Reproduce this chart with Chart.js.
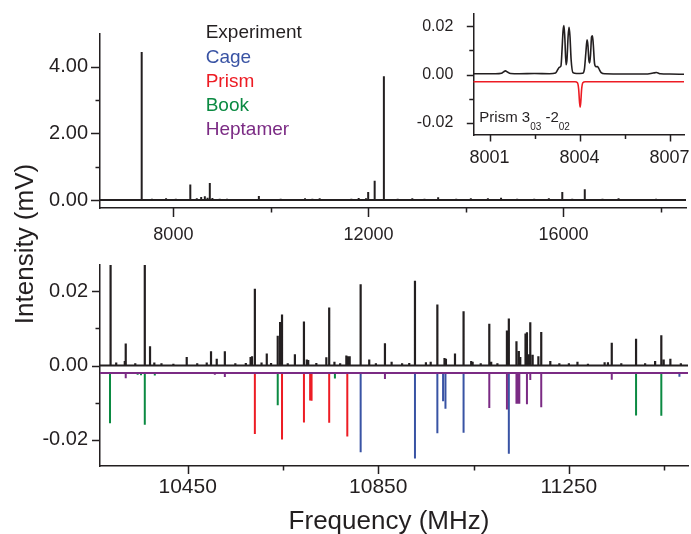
<!DOCTYPE html>
<html>
<head>
<meta charset="utf-8">
<script src="https://cdn.jsdelivr.net/npm/chart.js@4.4.1/dist/chart.umd.min.js"></script>
<style>
  body { margin: 0; background: #fff; }
  #wrap { position: relative; width: 691px; height: 534px; }
  #wrap canvas { position: absolute; left: 0; top: 0; }
</style>
</head>
<body>
<div id="wrap">
  <canvas id="overview" width="691" height="534"></canvas>
  <canvas id="expanded" width="691" height="534"></canvas>
  <canvas id="inset" width="691" height="534"></canvas>
</div>
<script>
const AXIS = '#231f20';
const FONT = "'Liberation Sans', Arial, Helvetica, sans-serif";
const colors = { exp: '#231f20', cage: '#3953a4', prism: '#ed1c24', book: '#0b8a42', hept: '#7b2b84' };

// overview spectrum (MHz, mV)
const overviewFreq = [7350, 7430, 7560, 7700, 7850, 8050, 8347, 8480, 8570, 8645, 8700, 8747, 8800, 8950, 9100, 9300,
  9753, 9900, 10200, 10450, 10700, 10850, 11000, 11300, 11650, 11800, 11950, 11995, 12128, 12317, 12600, 12900,
  13150, 13430, 13800, 14100, 14450, 14720, 15050, 15400, 15700, 15976, 16180, 16437, 16800, 17130, 17500, 17900, 18300];
const overviewInt = [4.45, 0.03, 0.04, 0.03, 0.05, 0.04, 0.47, 0.05, 0.09, 0.11, 0.07, 0.51, 0.06, 0.04, 0.04, 0.03,
  0.12, 0.03, 0.04, 0.03, 0.05, 0.04, 0.05, 0.03, 0.04, 0.06, 0.05, 0.24, 0.58, 3.72, 0.04, 0.05,
  0.04, 0.08, 0.04, 0.05, 0.05, 0.07, 0.04, 0.04, 0.05, 0.24, 0.04, 0.32, 0.04, 0.05, 0.03, 0.04, 0.03];

// expanded region, experiment
const expFreq = [10287, 10289, 10300, 10318, 10320, 10340, 10360, 10371, 10380, 10395, 10420, 10448, 10470, 10490, 10499,
  10511, 10528, 10550, 10572, 10582, 10585, 10591, 10605, 10616, 10625, 10639, 10644, 10648, 10660, 10675, 10694, 10700,
  10703, 10720, 10741, 10747, 10758, 10770, 10783, 10787, 10790, 10813, 10831, 10845, 10864, 10878, 10900, 10915, 10927,
  10950, 10960, 10974, 10989, 10992, 11011, 11029, 11045, 11048, 11065, 11083, 11087, 11100, 11120, 11124, 11140, 11145,
  11148, 11159, 11162, 11165, 11169, 11174, 11186, 11192, 11211, 11230, 11250, 11268, 11290, 11325, 11332, 11340, 11360,
  11391, 11410, 11431, 11444, 11449, 11463, 11485];
const expInt = [0.0275, 0.0034, 0.0008, 0.0012, 0.0059, 0.0006, 0.0275, 0.0052, 0.0008, 0.0006, 0.0005, 0.0023, 0.0006, 0.0008, 0.0038,
  0.0018, 0.0038, 0.0006, 0.0007, 0.0023, 0.0025, 0.0206, 0.0008, 0.0032, 0.0007, 0.008, 0.0117, 0.0137, 0.0006, 0.003, 0.0118, 0.0016,
  0.0015, 0.0007, 0.0022, 0.0156, 0.001, 0.0006, 0.0027, 0.0025, 0.0025, 0.0218, 0.0016, 0.0006, 0.006, 0.001, 0.0006, 0.0007, 0.0228,
  0.0009, 0.001, 0.0164, 0.002, 0.0018, 0.0032, 0.0146, 0.0012, 0.001, 0.0006, 0.0112, 0.001, 0.0006, 0.0094, 0.0126, 0.0065, 0.0039,
  0.0023, 0.0086, 0.0089, 0.003, 0.0116, 0.0029, 0.0025, 0.009, 0.0012, 0.0006, 0.0006, 0.001, 0.0005, 0.0009, 0.0009, 0.0061, 0.0006,
  0.0072, 0.0006, 0.0012, 0.0081, 0.0016, 0.0018, 0.0006];

// simulated spectra, drawn downwards from an offset baseline
const simBase = -0.002;
const cageFreq = [10813, 10927, 10974, 10986, 10991, 11029, 11124, 11482];
const cageInt = [-0.0233, -0.025, -0.0182, -0.0096, -0.0116, -0.0181, -0.0237, -0.003];
const prismFreq = [10591, 10648, 10694, 10707, 10710, 10747, 10785];
const prismInt = [-0.0184, -0.0199, -0.0153, -0.0094, -0.0095, -0.0154, -0.0191];
const bookFreq = [10287, 10345, 10352, 10360, 10381, 10639, 10759, 11391, 11444];
const bookInt = [-0.0155, -0.0025, -0.0026, -0.0159, -0.0027, -0.0107, -0.0035, -0.0134, -0.0135];
const heptFreq = [10320, 10507, 10528, 10864, 11083, 11120, 11140, 11143, 11146, 11162, 11169, 11192, 11340];
const heptInt = [-0.0034, -0.0025, -0.0031, -0.0036, -0.0114, -0.0118, -0.0103, -0.0103, -0.0103, -0.0104, -0.0039, -0.0112, -0.0038];

// inset: Prism 3(03)-2(02) line
const insetFreq = [8000.46, 8001.2, 8001.4, 8001.47, 8001.53, 8001.6, 8001.7, 8002.0, 8002.5, 8003.0, 8003.2, 8003.28, 8003.33,
  8003.38, 8003.42, 8003.45, 8003.48, 8003.51, 8003.55, 8003.58, 8003.62, 8003.65, 8003.68, 8003.72, 8003.78, 8003.9,
  8004.1, 8004.16, 8004.21, 8004.25, 8004.28, 8004.31, 8004.34, 8004.37, 8004.40, 8004.43, 8004.46, 8004.5, 8004.55,
  8004.6, 8004.64, 8004.72, 8004.85, 8005.5, 8006.2, 8006.45, 8006.56, 8006.7, 8007.0, 8007.48];
const insetInt = [0.0003, 0.0003, 0.0005, 0.0011, 0.0015, 0.001, 0.0004, 0.0003, 0.0004, 0.0003, 0.0006, 0.0022, 0.003,
  0.0035, 0.011, 0.018, 0.0202, 0.015, 0.004, 0.006, 0.016, 0.0195, 0.016, 0.006, 0.0008, 0.0004,
  0.0005, 0.002, 0.009, 0.0143, 0.012, 0.006, 0.0048, 0.009, 0.0155, 0.016, 0.012, 0.0045, 0.0032,
  0.0033, 0.0025, 0.0008, 0.0003, 0.0002, 0.0002, 0.0006, 0.0008, 0.0003, 0.0002, 0.0001];
const prismFitFreq = [8000.46, 8003.85, 8003.93, 8003.97, 8004.0, 8004.02, 8004.04, 8004.07, 8004.11, 8004.19, 8007.48];
const prismFitInt = [-0.003, -0.003, -0.0034, -0.006, -0.0115, -0.0135, -0.0115, -0.006, -0.0034, -0.003, -0.003];

// tick values
const ovXMajor = [8000, 12000, 16000], ovXMinor = [10000, 14000, 18000];
const ovYMajor = [0, 2, 4], ovYMinor = [1, 3];
const exXMajor = [10450, 10850, 11250], exXMinor = [10650, 11050, 11450];
const exYMajor = [-0.02, 0, 0.02], exYMinor = [-0.01, 0.01];
const inXMajor = [8001, 8004, 8007], inXMinor = [8002.5, 8005.5];
const inYMajor = [-0.02, 0, 0.02], inYMinor = [-0.01, 0.01];

function sticks(freqs, vals, base, from, to) {
  const pts = [{ x: from, y: base }];
  freqs.forEach((f, i) => {
    pts.push({ x: f, y: base }, { x: f, y: vals[i] }, { x: f, y: base });
  });
  pts.push({ x: to, y: base });
  return pts;
}

function trace(freqs, vals) {
  return freqs.map((f, i) => ({ x: f, y: vals[i] }));
}

function line(data, color, width, extra) {
  return Object.assign({ data, showLine: true, pointRadius: 0, borderColor: color, borderWidth: width,
    borderJoinStyle: 'bevel', fill: false }, extra || {});
}

function axis(min, max, majors, fmt, size, pad, fitSize, isX) {
  return {
    type: 'linear', min, max,
    grid: { display: false, drawTicks: false },
    border: { display: true, color: AXIS, width: 1.5 },
    ticks: { autoSkip: false, maxRotation: 0, padding: pad, color: AXIS, font: { family: FONT, size }, callback: fmt },
    afterBuildTicks: s => { s.ticks = majors.map(v => ({ value: v })); },
    afterFit: s => {
      if (isX) { s.height = fitSize; s.paddingLeft = 0; s.paddingRight = 0; }
      else { s.width = fitSize; s.paddingTop = 0; s.paddingBottom = 0; }
    }
  };
}

const tickMarks = {
  id: 'tickMarks',
  afterDraw(chart, args, o) {
    const { ctx, chartArea: a, scales } = chart;
    ctx.save();
    ctx.strokeStyle = AXIS;
    ctx.lineWidth = 1.5;
    ctx.beginPath();
    [[o.xMajor, o.major], [o.xMinor, o.minor]].forEach(([vals, len]) => vals.forEach(v => {
      const p = Math.round(scales.x.getPixelForValue(v)) + 0.5;
      ctx.moveTo(p, a.bottom); ctx.lineTo(p, a.bottom + len);
    }));
    [[o.yMajor, o.major], [o.yMinor, o.minor]].forEach(([vals, len]) => vals.forEach(v => {
      const p = Math.round(scales.y.getPixelForValue(v)) + 0.5;
      ctx.moveTo(a.left, p); ctx.lineTo(a.left - len, p);
    }));
    ctx.stroke();
    ctx.restore();
  }
};

const notes = {
  id: 'notes',
  afterDraw(chart, args, o) {
    const ctx = chart.ctx;
    (o.items || []).forEach(n => {
      ctx.save();
      ctx.translate(n.x, n.y);
      if (n.rotate) ctx.rotate(n.rotate);
      ctx.textBaseline = 'alphabetic';
      ctx.textAlign = n.align || 'left';
      ctx.fillStyle = n.color || AXIS;
      let x = 0;
      (n.parts || [{ text: n.text }]).forEach(p => {
        ctx.font = (p.size || n.size) + 'px ' + FONT;
        ctx.fillText(p.text, x, p.dy || 0);
        x += ctx.measureText(p.text).width;
      });
      ctx.restore();
    });
  }
};

function makeChart(id, padding, scales, datasets, ticks, items) {
  return new Chart(document.getElementById(id), {
    type: 'scatter',
    data: { datasets },
    options: {
      responsive: false,
      animation: false,
      layout: { padding },
      scales,
      plugins: { legend: { display: false }, tooltip: { enabled: false }, tickMarks: ticks, notes: { items } }
    },
    plugins: [tickMarks, notes]
  });
}

const fmt2 = v => v.toFixed(2);
const fmt0 = v => String(v);

// top: overview
makeChart('overview', { left: 0, top: 34, right: 5, bottom: 276 },
  {
    x: axis(6495, 18513, ovXMajor, fmt0, 18, 16, 50, true),
    y: axis(-0.24, 4.99, ovYMajor, fmt2, 20, 12, 100, false)
  },
  [line(sticks(overviewFreq, overviewInt, 0, 6495, 18513), colors.exp, 2)],
  { xMajor: ovXMajor, xMinor: ovXMinor, yMajor: ovYMajor, yMinor: ovYMinor, major: 9, minor: 4.5 },
  [
    { text: 'Experiment', x: 205.7, y: 38.3, size: 19, color: colors.exp },
    { text: 'Cage', x: 205.7, y: 62.5, size: 19, color: colors.cage },
    { text: 'Prism', x: 205.7, y: 86.7, size: 19, color: colors.prism },
    { text: 'Book', x: 205.7, y: 110.9, size: 19, color: colors.book },
    { text: 'Heptamer', x: 205.7, y: 135.1, size: 19, color: colors.hept }
  ]);

// bottom: expanded region with simulations
makeChart('expanded', { left: 0, top: 265, right: 3, bottom: 0 },
  {
    x: axis(10266, 11500, exXMajor, fmt0, 21, 9, 68, true),
    y: axis(-0.027, 0.027, exYMajor, fmt2, 20, 12, 100, false)
  },
  [
    line(sticks(heptFreq, heptInt, simBase, 10266, 11500), colors.hept, 2, { order: 0 }),
    line(sticks(cageFreq, cageInt, simBase, 10266, 11500), colors.cage, 2, { order: 1 }),
    line(sticks(prismFreq, prismInt, simBase, 10266, 11500), colors.prism, 2, { order: 2 }),
    line(sticks(bookFreq, bookInt, simBase, 10266, 11500), colors.book, 2, { order: 3 }),
    line(sticks(expFreq, expInt, 0, 10266, 11500), colors.exp, 2.2, { order: 4 })
  ],
  { xMajor: exXMajor, xMinor: exXMinor, yMajor: exYMajor, yMinor: exYMinor, major: 8, minor: 4.5 },
  [
    { text: 'Frequency (MHz)', x: 389, y: 529, size: 26, align: 'center' },
    { text: 'Intensity (mV)', x: 33, y: 244, size: 26, align: 'center', rotate: -Math.PI / 2 }
  ]);

// inset
makeChart('inset', { left: 400, top: 14, right: 7, bottom: 354 },
  {
    x: axis(8000.46, 8007.48, inXMajor, fmt0, 18, 12.6, 45, true),
    y: axis(-0.025, 0.025, inYMajor, fmt2, 16, 20, 73.3, false)
  },
  [
    line(trace(insetFreq, insetInt), colors.exp, 1.6, { cubicInterpolationMode: 'monotone', borderJoinStyle: 'round' }),
    line(trace(prismFitFreq, prismFitInt), colors.prism, 1.6, { cubicInterpolationMode: 'monotone', borderJoinStyle: 'round' })
  ],
  { xMajor: inXMajor, xMinor: inXMinor, yMajor: inYMajor, yMinor: inYMinor, major: 6.5, minor: 4 },
  [
    { x: 479.3, y: 121.7, size: 15, parts: [
      { text: 'Prism 3' }, { text: '03', size: 10, dy: 8 }, { text: ' -2' }, { text: '02', size: 10, dy: 8 }
    ] }
  ]);
</script>
</body>
</html>
